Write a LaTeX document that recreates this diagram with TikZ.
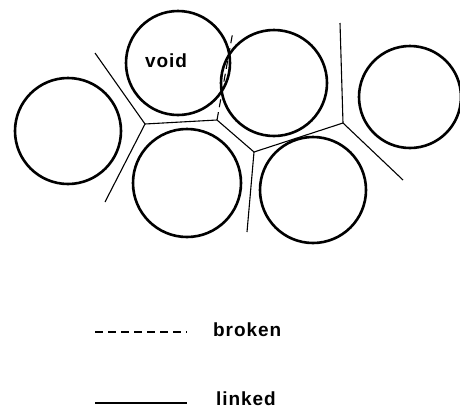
\documentclass[tikz,border=0pt]{standalone}
\usepackage{fontspec}
\newfontfamily\lblfont[LetterSpace=5]{Liberation Sans Bold}
\usetikzlibrary{positioning}

\tikzset{
  grain/.style={line width=2.6pt},
  linked/.style={line width=1.1pt},
  broken/.style={line width=1.1pt, dash pattern=on 8pt off 5pt},
  lbl/.style={font=\lblfont\fontsize{19}{19}\selectfont, inner sep=0pt}
}

\begin{document}
\begin{tikzpicture}[x=1pt, y=-1pt]
    \useasboundingbox (0,0) rectangle (460,410);
    % Koerner
    \coordinate (gL) at (68,131);
    \coordinate (gV) at (178,63);
    \coordinate (gM) at (274,83);
    \coordinate (gR) at (410,97);
    \coordinate (gBL) at (187,183);
    \coordinate (gBR) at (313,190);
    \foreach \g/\r in {gL/53, gV/52, gM/53, gR/51, gBL/54, gBR/53}
        \draw[grain] (\g) circle[radius=\r];
    \node[lbl] (void) at (166,61) {void};

    % Ecken
    \coordinate (v1) at (145,124);
    \coordinate (v2) at (217,120);
    \coordinate (v3) at (254,152);
    \coordinate (v4) at (343,123);
    % freie Enden
    \coordinate (e1) at (95,53);
    \coordinate (e2) at (105,202);
    \coordinate (e3) at (233,31);
    \coordinate (e4) at (247,232);
    \coordinate (e5) at (340,23);
    \coordinate (e6) at (403,180);

    % Kanten
    \draw[linked] (e1) -- (v1) -- (e2);
    \draw[linked] (v1) -- (v2) -- (v3) -- (v4);
    \draw[linked] (v3) -- (e4);
    \draw[linked] (e5) -- (v4) -- (e6);
    \draw[broken] (v2) -- (e3);

    % Legende
    \coordinate (k1a) at (95,332);
    \coordinate (k1b) at (187,332);
    \coordinate (k2a) at (95,403);
    \coordinate (k2b) at (187,403);
    \draw[broken] (k1a) -- (k1b);
    \node[lbl, anchor=west] (tbroken) at (213,330) {broken};
    \draw[linked] (k2a) -- (k2b);
    \node[lbl, anchor=west] (tlinked) at (216,399) {linked};
\end{tikzpicture}
\end{document}
